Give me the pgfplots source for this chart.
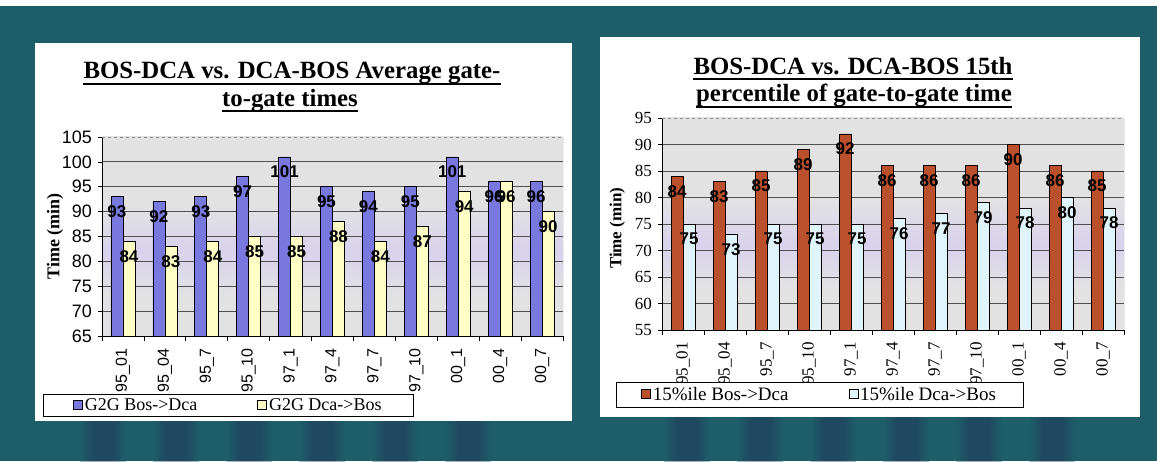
\documentclass[border=0pt]{standalone}
\usepackage{pgfplots}
\pgfplotsset{compat=1.18}
\usepackage{fontspec}
\setmainfont{Liberation Serif}
\newfontfamily\arial{Liberation Sans}
\newfontfamily\tnr{Liberation Serif}

\definecolor{slideteal}{RGB}{30,94,104}
\definecolor{stripe}{RGB}{34,40,88}
\definecolor{bggray}{RGB}{226,226,226}
\definecolor{bglav}{RGB}{216,210,236}
\definecolor{periwinkle}{RGB}{120,120,222}
\definecolor{paleyellow}{RGB}{255,255,198}
\definecolor{rust}{RGB}{186,80,44}
\definecolor{paleblue}{RGB}{224,244,251}
\definecolor{gridc}{RGB}{80,80,80}

% plot-area wash: grey with a lavender band through the middle
\pgfdeclareverticalshading{plotbgL}{100bp}{color(0bp)=(bggray); color(35bp)=(bggray); color(46.5bp)=(bglav); color(57.5bp)=(bggray); color(100bp)=(bggray)}
\pgfdeclareverticalshading{plotbgR}{100bp}{color(0bp)=(bggray); color(35bp)=(bggray); color(45bp)=(bglav); color(56bp)=(bggray); color(100bp)=(bggray)}
% soft vertical smear used for the banding below the panels
\pgfdeclarehorizontalshading{smear}{100bp}{color(0bp)=(slideteal); color(25bp)=(slideteal); color(40bp)=(stripe); color(60bp)=(stripe); color(75bp)=(slideteal); color(100bp)=(slideteal)}

\pgfplotsset{
  sq legend/.style={legend image code/.code={\draw[##1, line width=0.6pt] (0pt,-4pt) rectangle (9pt,5pt);}},
  slide chart/.style={
    scale only axis,
    anchor=south west,
    ybar=0pt, bar width=12pt,
    xmin=-0.5, xmax=10.5,
    xtick={0,...,10},
    xticklabels={95\_01,95\_04,95\_7,95\_10,97\_1,97\_4,97\_7,97\_10,00\_1,00\_4,00\_7},
    minor xtick={-0.5,0.5,...,10.5},
    major x tick style={draw=none},
    minor x tick style={black, line width=0.7pt},
    minor tick length=5pt,
    major tick length=4pt,
    y tick style={black, line width=0.7pt},
    tick align=outside,
    axis lines*=left,
    axis line style={-, black, line width=0.9pt},
    ymajorgrids,
    major grid style={gridc, line width=0.8pt},
    extra y tick style={grid=none},
    /pgf/number format/assume math mode=true,
    xticklabel style={rotate=90, anchor=east, inner sep=0pt},
    xticklabel shift=8pt,
    yticklabel style={inner sep=0pt},
    yticklabel shift=6pt,
    nodes near coords,
    every node near coord/.append style={font=\arial\bfseries\fontsize{17}{17}\selectfont, anchor=center, yshift=-15pt, inner sep=0pt, text=black},
    legend columns=2,
    legend cell align=left,
    every axis plot/.append style={draw=black, line width=0.7pt},
  },
}

\newcommand\utitle[3]{%
  \node[anchor=base, inner sep=0pt, font=\tnr\bfseries\fontsize{24.8}{26}\selectfont] (T) at (#1,#2) {#3};
  \draw[line width=2pt] ([yshift=-5pt]T.base west) -- ([yshift=-5pt]T.base east);
}

\begin{document}
\begin{tikzpicture}[x=1pt,y=1pt]
\useasboundingbox (0,0) rectangle (1157,461);
\fill[white] (0,0) rectangle (1157,461);
\fill[slideteal] (0,0) rectangle (1157,455);
% dark banding along the bottom of the slide
\foreach \x in {80,153,226,299,372,445,664,737,810,883,956,1029}
  \shade[shading=smear, opacity=0.4] (\x,0) rectangle (\x+46,45);
% the two chart panels
\fill[white] (35,40) rectangle (572,418);
\fill[white] (600,44) rectangle (1140,424);

% ---------------- average gate-to-gate times ----------------
\begin{axis}[slide chart,
  at={(102pt,125pt)}, width=461pt, height=199pt,
  ymin=65, ymax=105, ytick={65,70,...,100}, extra y ticks={105},
  axis background/.style={shade, shading=plotbgL},
  yticklabel style={font=\arial\fontsize{18}{18}\selectfont},
  xticklabel style={font=\arial\fontsize{16}{16}\selectfont},
  ylabel={Time (min)},
  ylabel style={at={(axis description cs:-0.102,0.5)}, anchor=center, font=\tnr\bfseries\fontsize{18}{18}\selectfont},
  legend style={at={(axis description cs:-0.128,-0.402)}, anchor=south west, draw=black, fill=white,
    font=\tnr\fontsize{18}{18}\selectfont, inner xsep=30pt, inner ysep=2pt, nodes={inner sep=2pt},
    /tikz/every even column/.append style={column sep=58pt}},
]
\addplot[fill=periwinkle, sq legend] coordinates {(0,93) (1,92) (2,93) (3,97) (4,101) (5,95) (6,94) (7,95) (8,101) (9,96) (10,96)};
\addplot[fill=paleyellow, sq legend] coordinates {(0,84) (1,83) (2,84) (3,85) (4,85) (5,88) (6,84) (7,87) (8,94) (9,96) (10,90)};
\legend{G2G Bos->Dca, G2G Dca->Bos}
\draw[black!45, dashed, line width=0.6pt] (rel axis cs:0,1) -- (rel axis cs:1,1);
\draw[black!45, line width=0.6pt] (rel axis cs:1,1) -- (rel axis cs:1,0);
\end{axis}

% ---------------- 15th percentile gate-to-gate times ----------------
\begin{axis}[slide chart,
  at={(662pt,131pt)}, width=462pt, height=212pt,
  ymin=55, ymax=95, ytick={55,60,...,90}, extra y ticks={95},
  axis background/.style={shade, shading=plotbgR},
  yticklabel style={font=\tnr\fontsize{17}{17}\selectfont},
  xticklabel style={font=\tnr\fontsize{17}{17}\selectfont},
  ylabel={Time (min)},
  ylabel style={at={(axis description cs:-0.097,0.48)}, anchor=center, font=\tnr\bfseries\fontsize{17}{17}\selectfont},
  legend style={at={(axis description cs:-0.0996,-0.363)}, anchor=south west, draw=black, fill=white,
    font=\tnr\fontsize{19}{19}\selectfont, inner xsep=25pt, inner ysep=3pt, nodes={inner sep=2pt},
    /tikz/every even column/.append style={column sep=58pt}},
]
\addplot[fill=rust, sq legend] coordinates {(0,84) (1,83) (2,85) (3,89) (4,92) (5,86) (6,86) (7,86) (8,90) (9,86) (10,85)};
\addplot[fill=paleblue, sq legend] coordinates {(0,75) (1,73) (2,75) (3,75) (4,75) (5,76) (6,77) (7,79) (8,78) (9,80) (10,78)};
\legend{15\%ile Bos->Dca, 15\%ile Dca->Bos}
\draw[black!45, dashed, line width=0.6pt] (rel axis cs:0,1) -- (rel axis cs:1,1);
\draw[black!45, line width=0.6pt] (rel axis cs:1,1) -- (rel axis cs:1,0);
\end{axis}

% titles
\utitle{292}{382}{BOS-DCA vs. DCA-BOS Average gate-}
\utitle{290}{354.5}{to-gate times}
\utitle{853}{386.5}{BOS-DCA vs. DCA-BOS 15th}
\utitle{854}{359}{percentile of gate-to-gate time}
\end{tikzpicture}
\end{document}
